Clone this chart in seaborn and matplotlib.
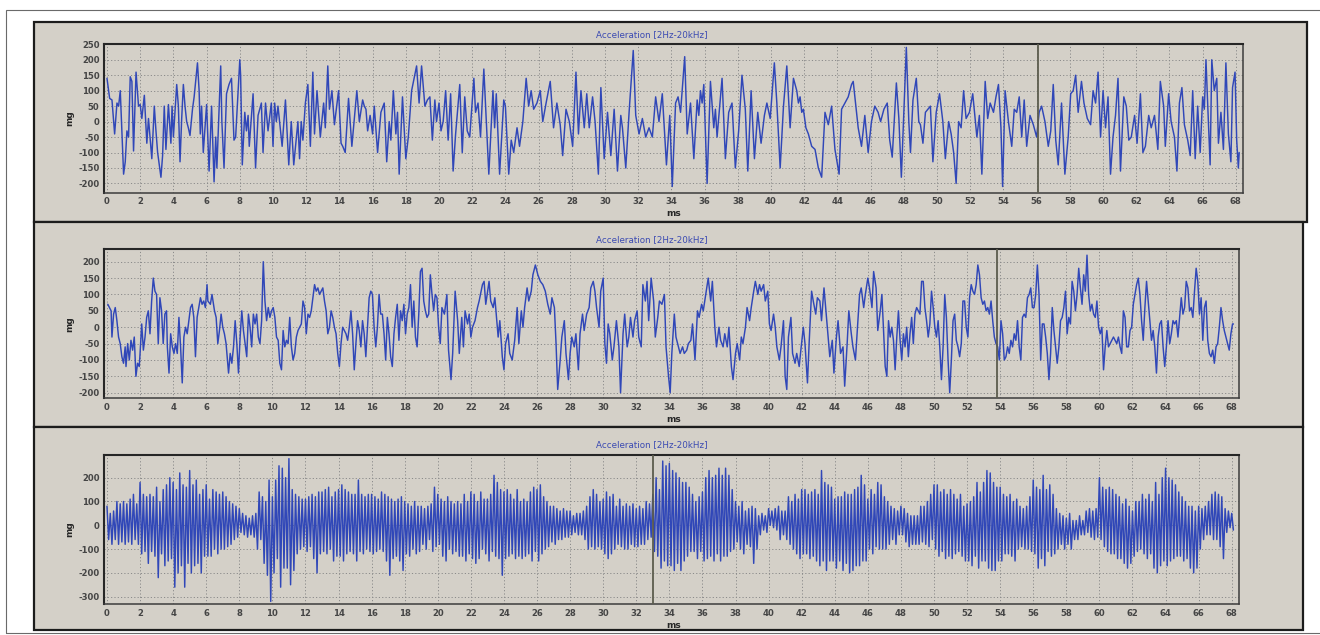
import numpy as np
import pandas as pd
import matplotlib
matplotlib.use("Agg")
import matplotlib.pyplot as plt
import seaborn as sns
from matplotlib.patches import Rectangle

# ---------------- data ----------------
title_text = "Acceleration [2Hz-20kHz]"
x_label = "ms"
y_label = "mg"
x_ticks = list(range(0, 70, 2))
p1_yticks = [250, 200, 150, 100, 50, 0, -50, -100, -150, -200]
p2_yticks = [200, 150, 100, 50, 0, -50, -100, -150, -200]
p3_yticks = [200, 100, 0, -100, -200, -300]
cursor_ms = [56.07, 53.83, 33.03]

p1_t = [
    0.0, 0.16, 0.3, 0.46, 0.6, 0.7, 0.8, 1.0, 1.1, 1.2,
    1.3, 1.4, 1.5, 1.6, 1.75, 1.82, 1.9, 2.0, 2.1, 2.25,
    2.4, 2.5, 2.7, 2.85, 2.95, 3.05, 3.25, 3.35, 3.45, 3.55,
    3.7, 3.85, 3.92, 4.0, 4.2, 4.3, 4.4, 4.5, 4.6, 4.7,
    4.8, 4.9, 5.0, 5.15, 5.25, 5.45, 5.55, 5.62, 5.7, 5.8,
    6.0, 6.15, 6.3, 6.45, 6.55, 6.62, 6.85, 6.92, 7.05, 7.2,
    7.35, 7.5, 7.65, 7.75, 8.0, 8.05, 8.15, 8.3, 8.4, 8.5,
    8.57, 8.8, 8.95, 9.1, 9.3, 9.4, 9.55, 9.7, 9.9, 10.0,
    10.1, 10.2, 10.3, 10.55, 10.75, 10.95, 11.1, 11.25, 11.5, 11.6,
    11.7, 11.8, 11.95, 12.1, 12.25, 12.4, 12.5, 12.65, 12.85, 13.05,
    13.15, 13.3, 13.4, 13.55, 13.7, 13.95, 14.1, 14.2, 14.35, 14.55,
    14.75, 15.05, 15.2, 15.4, 15.5, 15.6, 15.7, 15.85, 16.0, 16.1,
    16.3, 16.5, 16.7, 16.85, 17.0, 17.1, 17.25, 17.4, 17.5, 17.6,
    17.8, 18.0, 18.15, 18.35, 18.65, 18.8, 18.95, 19.15, 19.3, 19.45,
    19.6, 19.75, 19.85, 20.0, 20.12, 20.25, 20.4, 20.55, 20.7, 20.85,
    21.0, 21.25, 21.4, 21.55, 21.7, 21.85, 22.1, 22.2, 22.35, 22.5,
    22.7, 22.85, 23.0, 23.25, 23.35, 23.45, 23.65, 23.9, 24.0, 24.2,
    24.35, 24.5, 24.7, 24.85, 25.05, 25.25, 25.4, 25.55, 25.7, 25.9,
    26.1, 26.25, 26.45, 26.7, 26.9, 27.1, 27.3, 27.45, 27.65, 27.85,
    28.05, 28.25, 28.4, 28.55, 28.75, 28.9, 29.05, 29.25, 29.4, 29.6,
    29.75, 29.95, 30.15, 30.35, 30.55, 30.75, 30.95, 31.05, 31.25, 31.45,
    31.7, 31.85, 32.05, 32.25, 32.45, 32.65, 32.85, 33.05, 33.25, 33.45,
    33.7, 33.9, 34.05, 34.25, 34.4, 34.55, 34.8, 34.95, 35.15, 35.35,
    35.55, 35.65, 35.75, 35.85, 35.95, 36.15, 36.35, 36.55, 36.65, 36.75,
    37.05, 37.25, 37.45, 37.65, 37.85, 38.05, 38.25, 38.45, 38.6, 38.8,
    39.0, 39.2, 39.4, 39.6, 39.75, 39.95, 40.2, 40.35, 40.55, 40.75,
    40.95, 41.15, 41.35, 41.55, 41.65, 41.75, 41.85, 41.95, 42.1, 42.25,
    42.45, 42.65, 42.85, 43.05, 43.25, 43.45, 43.65, 43.85, 44.1, 44.25,
    44.45, 44.65, 44.85, 44.95, 45.25, 45.45, 45.65, 45.85, 46.05, 46.25,
    46.45, 46.6, 46.8, 47.0, 47.15, 47.3, 47.55, 47.7, 47.85, 48.05,
    48.15, 48.3, 48.4, 48.55, 48.75, 48.9, 49.0, 49.15, 49.3, 49.45,
    49.6, 49.75, 49.95, 50.15, 50.35, 50.5, 50.7, 50.85, 51.0, 51.15,
    51.3, 51.45, 51.6, 51.75, 51.95, 52.15, 52.4, 52.55, 52.7, 52.9,
    53.05, 53.2, 53.4, 53.55, 53.7, 53.85, 53.95, 54.1, 54.3, 54.5,
    54.65, 54.8, 54.95, 55.1, 55.25, 55.4, 55.6, 55.8, 56.0, 56.15,
    56.3, 56.5, 56.7, 56.85, 57.0, 57.15, 57.3, 57.5, 57.7, 57.9,
    58.05, 58.2, 58.35, 58.5, 58.7, 58.85, 59.05, 59.25, 59.4, 59.55,
    59.7, 59.85, 60.0, 60.15, 60.3, 60.45, 60.6, 60.75, 60.9, 61.05,
    61.25, 61.4, 61.55, 61.7, 61.9, 62.05, 62.25, 62.4, 62.55, 62.75,
    62.9, 63.1, 63.3, 63.45, 63.65, 63.75, 63.95, 64.1, 64.3, 64.45,
    64.6, 64.75, 64.9, 65.1, 65.25, 65.4, 65.55, 65.7, 65.85, 66.0,
    66.1, 66.2, 66.3, 66.45, 66.55, 66.7, 66.85, 66.95, 67.1, 67.25,
    67.4, 67.55, 67.7, 67.8, 67.95, 68.05, 68.15, 68.2,
]
p1_v = [
    140, 75, 70, -40, 60, 50, 100, -170, -130, -30,
    -50, 145, 130, -95, 160, 110, 50, 55, 10, 85,
    -70, 10, -120, 50, -30, -100, -180, -110, 50, -90,
    55, -70, 50, -50, 120, 50, -130, 10, 120, 50,
    0, -20, -45, 40, 80, 190, 100, -40, 50, -100,
    55, -160, 50, -195, -50, -150, 180, 0, -150, 90,
    120, 140, -60, -50, 200, 150, -140, 30, -30, 20,
    -80, 90, -150, 20, 60, -100, 60, -30, 60, -80,
    60, 0, 50, -80, 70, -140, 0, -140, 0, -120,
    0, -60, 60, 120, -80, 160, -40, 100, -50, 60,
    -20, 180, 40, 100, -10, 100, -70, -80, -100, 75,
    -80, 100, 0, 70, 50, 40, -30, 20, -40, 50,
    -100, 30, 60, -130, 0, -60, 100, -40, 30, -170,
    80, -120, -50, 100, 180, 60, 180, 50, 70, 80,
    -60, 70, 0, 60, -30, 0, 100, -60, 90, -160,
    -40, 120, -100, 80, -30, -50, 140, 30, 60, -50,
    170, 0, -170, 100, -20, 90, -170, 70, 50, -170,
    -60, -100, -20, -80, 0, 140, 50, 100, 40, 60,
    100, 0, 60, 130, -20, 60, -10, -110, 40, 0,
    -80, 160, -40, 100, -20, 90, -20, 80, 0, -170,
    110, -120, 30, -110, 40, -160, 20, -20, -150, 30,
    230, 20, -40, 10, -50, -20, -50, 80, 0, 90,
    -140, 20, -210, 60, 80, 30, 210, -40, 60, -120,
    70, 20, 100, 60, 120, -200, 130, -20, 40, -50,
    140, -120, 30, 60, -150, -30, 150, 40, -160, 100,
    -120, 30, -70, 20, 60, 10, 190, 60, -150, 50,
    180, -20, 140, 100, 60, 80, 30, 40, -20, -40,
    -80, -90, -150, -180, 30, -10, 50, -90, -170, 40,
    60, 80, 120, 130, -20, -80, 20, -100, 0, 50,
    30, 0, 40, 60, -60, -115, 125, 10, -180, 100,
    240, 0, -100, 70, 140, 0, -10, -70, 30, 40,
    50, -130, 30, 90, 0, -120, 0, -40, -100, -200,
    0, -20, 100, 10, 30, 90, -50, 20, -170, 130,
    10, 60, 30, 80, 120, -20, -210, 100, 0, -80,
    40, 30, 80, -50, 70, -80, 20, -10, -50, 30,
    50, 0, -80, -30, 120, -60, -140, 60, -170, -50,
    90, 100, 150, 30, 130, 60, 10, -10, 100, 60,
    160, -50, 100, -20, 80, -170, -50, 20, 140, -160,
    80, 50, -60, -50, 20, -70, 90, -100, -80, 20,
    -20, 20, -90, 130, 50, -80, 90, 0, -50, -160,
    60, 110, -10, -60, -110, 100, -120, 50, -100, 80,
    40, 200, 60, -140, 200, 100, 140, -70, 30, -90,
    190, -40, -130, 110, 160, -60, -150, -100,
]

p2_t = [
    0.05, 0.15, 0.25, 0.3, 0.4, 0.5, 0.6, 0.7, 0.8, 0.9,
    1.0, 1.1, 1.15, 1.25, 1.35, 1.45, 1.55, 1.65, 1.75, 1.85,
    1.95, 2.0, 2.1, 2.2, 2.3, 2.4, 2.5, 2.6, 2.7, 2.8,
    2.9, 3.0, 3.1, 3.2, 3.3, 3.4, 3.5, 3.6, 3.65, 3.75,
    3.85, 3.95, 4.05, 4.15, 4.25, 4.35, 4.45, 4.55, 4.65, 4.75,
    4.85, 4.95, 5.05, 5.15, 5.25, 5.35, 5.45, 5.55, 5.65, 5.75,
    5.85, 5.95, 6.05, 6.1, 6.25, 6.35, 6.5, 6.6, 6.7, 6.8,
    6.9, 7.0, 7.1, 7.2, 7.35, 7.45, 7.55, 7.65, 7.75, 7.85,
    7.95, 8.05, 8.15, 8.25, 8.35, 8.45, 8.55, 8.65, 8.75, 8.85,
    8.95, 9.05, 9.15, 9.25, 9.35, 9.45, 9.55, 9.65, 9.75, 9.85,
    9.95, 10.05, 10.15, 10.25, 10.35, 10.45, 10.55, 10.65, 10.75, 10.85,
    10.95, 11.05, 11.15, 11.25, 11.35, 11.45, 11.55, 11.65, 11.75, 11.85,
    11.95, 12.05, 12.15, 12.25, 12.35, 12.45, 12.55, 12.65, 12.75, 12.85,
    12.95, 13.05, 13.15, 13.25, 13.35, 13.45, 13.55, 13.65, 13.75, 13.85,
    13.95, 14.05, 14.15, 14.25, 14.35, 14.45, 14.55, 14.65, 14.75, 14.85,
    14.95, 15.05, 15.15, 15.25, 15.35, 15.45, 15.55, 15.65, 15.75, 15.85,
    15.95, 16.05, 16.15, 16.25, 16.35, 16.45, 16.55, 16.65, 16.75, 16.85,
    16.95, 17.05, 17.15, 17.25, 17.35, 17.45, 17.55, 17.65, 17.75, 17.85,
    17.95, 18.05, 18.15, 18.25, 18.35, 18.45, 18.55, 18.65, 18.75, 18.85,
    18.95, 19.05, 19.15, 19.25, 19.35, 19.45, 19.55, 19.65, 19.75, 19.85,
    19.95, 20.05, 20.15, 20.25, 20.4, 20.55, 20.65, 20.8, 20.9, 21.05,
    21.2, 21.3, 21.45, 21.55, 21.65, 21.8, 21.9, 22.0, 22.1, 22.25,
    22.4, 22.5, 22.7, 22.8, 22.9, 23.1, 23.2, 23.35, 23.45, 23.65,
    23.75, 23.9, 24.0, 24.1, 24.25, 24.35, 24.5, 24.65, 24.8, 24.9,
    25.05, 25.15, 25.25, 25.4, 25.5, 25.65, 25.75, 25.9, 26.05, 26.2,
    26.35, 26.5, 26.65, 26.8, 26.9, 27.05, 27.15, 27.25, 27.4, 27.5,
    27.65, 27.75, 27.9, 28.0, 28.1, 28.25, 28.35, 28.5, 28.6, 28.75,
    28.85, 29.0, 29.15, 29.25, 29.4, 29.5, 29.6, 29.75, 29.85, 30.0,
    30.1, 30.2, 30.3, 30.4, 30.55, 30.65, 30.8, 30.95, 31.05, 31.2,
    31.3, 31.45, 31.55, 31.65, 31.8, 31.9, 32.05, 32.15, 32.3, 32.4,
    32.55, 32.65, 32.75, 32.9, 33.05, 33.15, 33.3, 33.4, 33.55, 33.7,
    33.8, 33.95, 34.05, 34.15, 34.3, 34.4, 34.55, 34.65, 34.8, 34.9,
    35.05, 35.15, 35.3, 35.4, 35.55, 35.7, 35.8, 35.95, 36.05, 36.2,
    36.35, 36.5, 36.6, 36.75, 36.85, 37.0, 37.1, 37.25, 37.35, 37.5,
    37.6, 37.75, 37.85, 38.0, 38.1, 38.25, 38.35, 38.45, 38.6, 38.7,
    38.85, 38.95, 39.1, 39.2, 39.35, 39.45, 39.55, 39.7, 39.8, 39.95,
    40.05, 40.15, 40.3, 40.4, 40.5, 40.65, 40.75, 40.9, 41.0, 41.1,
    41.2, 41.35, 41.45, 41.6, 41.7, 41.85, 41.95, 42.1, 42.2, 42.35,
    42.45, 42.6, 42.7, 42.85, 42.95, 43.1, 43.2, 43.35, 43.45, 43.6,
    43.7, 43.85, 43.95, 44.1, 44.2, 44.35, 44.5, 44.6, 44.75, 44.85,
    45.0, 45.1, 45.25, 45.35, 45.5, 45.6, 45.75, 45.85, 46.0, 46.1,
    46.25, 46.35, 46.5, 46.6, 46.75, 46.85, 47.05, 47.15, 47.25, 47.35,
    47.45, 47.55, 47.65, 47.75, 47.85, 47.95, 48.05, 48.15, 48.25, 48.35,
    48.45, 48.55, 48.65, 48.75, 48.85, 48.95, 49.05, 49.15, 49.25, 49.35,
    49.45, 49.55, 49.65, 49.75, 49.85, 49.95, 50.05, 50.15, 50.25, 50.35,
    50.45, 50.55, 50.65, 50.75, 50.85, 50.95, 51.05, 51.15, 51.25, 51.35,
    51.45, 51.55, 51.65, 51.75, 51.85, 51.95, 52.05, 52.15, 52.25, 52.35,
    52.45, 52.55, 52.65, 52.75, 52.85, 52.95, 53.05, 53.15, 53.25, 53.35,
    53.45, 53.55, 53.65, 53.75, 53.85, 53.95, 54.05, 54.15, 54.25, 54.35,
    54.45, 54.55, 54.65, 54.75, 54.85, 54.95, 55.05, 55.15, 55.25, 55.35,
    55.45, 55.55, 55.65, 55.75, 55.85, 55.95, 56.05, 56.15, 56.25, 56.35,
    56.45, 56.55, 56.65, 56.75, 56.85, 56.95, 57.05, 57.15, 57.25, 57.35,
    57.45, 57.55, 57.65, 57.75, 57.85, 57.95, 58.05, 58.15, 58.25, 58.35,
    58.45, 58.55, 58.65, 58.75, 58.85, 58.95, 59.05, 59.15, 59.25, 59.35,
    59.45, 59.55, 59.65, 59.75, 59.85, 59.95, 60.05, 60.15, 60.25, 60.35,
    60.45, 60.55, 60.65, 60.75, 60.85, 60.95, 61.05, 61.15, 61.25, 61.35,
    61.45, 61.55, 61.65, 61.75, 61.85, 61.95, 62.05, 62.15, 62.25, 62.35,
    62.45, 62.55, 62.65, 62.75, 62.85, 62.95, 63.05, 63.15, 63.25, 63.35,
    63.45, 63.55, 63.65, 63.75, 63.85, 63.95, 64.05, 64.15, 64.25, 64.35,
    64.45, 64.55, 64.65, 64.75, 64.85, 64.95, 65.05, 65.15, 65.25, 65.35,
    65.45, 65.55, 65.65, 65.75, 65.85, 65.95, 66.05, 66.15, 66.25, 66.35,
    66.45, 66.55, 66.65, 66.75, 66.85, 66.95, 67.05, 67.15, 67.25, 67.35,
    67.45, 67.55, 67.65, 67.75, 67.85, 67.95, 68.05, 68.1,
]
p2_v = [
    70, 60, 50, -30, 40, 60, 20, -30, -50, -90,
    -110, -60, -120, -50, -100, -40, -70, -30, -150, -110,
    -120, -80, 10, -70, -30, 30, 50, -20, 80, 150,
    110, 100, -50, 90, 50, -50, 40, 50, -60, -140,
    -20, -60, -80, -50, -80, 30, -60, -170, -30, 0,
    -20, 20, 60, 70, 30, -90, 30, 60, 90, 70,
    80, 60, 130, 80, 70, 100, 50, 30, -50, -10,
    40, 0, -20, -50, -140, -80, -110, -60, 20, -50,
    -140, -30, 50, -10, -50, -90, 40, 0, -60, 40,
    10, 40, -30, -50, 20, 200, 80, 20, 60, 30,
    50, 60, 30, -30, -40, -110, -130, -10, -60, -40,
    -50, 30, -60, -100, -80, -30, -10, 0, 10, 80,
    60, -20, 40, 30, 50, 90, 130, 110, 120, 100,
    110, 120, 80, 50, -20, 0, 50, 30, 0, -20,
    -80, -120, -50, 0, -10, -20, -40, 0, 50, -20,
    -130, -50, 20, -10, -60, 20, -20, -90, 0, 90,
    110, 100, 0, -60, 0, 100, 40, 40, -20, -100,
    30, -20, -90, -120, -20, 30, 70, -40, 50, 20,
    70, -20, 40, 60, 130, 0, 80, -30, -60, 40,
    170, 180, 80, 50, 30, 40, 160, 100, 50, 100,
    90, 0, -50, 60, 40, 100, -70, -160, -80, 110,
    20, -80, 30, -60, 50, 10, 40, -30, 0, 20,
    60, 80, 130, 140, 70, 140, 80, 60, 90, -30,
    20, -90, -130, -50, -20, -80, -100, -40, 60, -50,
    50, 0, 60, 120, 80, 110, 160, 190, 160, 140,
    130, 110, 70, 40, 90, 60, -50, -190, -100, -30,
    20, -80, -160, -80, -30, -60, -20, -130, -20, 40,
    -10, 40, 60, 120, 140, 110, 60, 0, 110, 150,
    -50, -110, 10, -20, -100, -60, 20, -60, -200, -20,
    40, -60, -30, 30, -30, 20, 50, -30, -60, 130,
    80, 140, 20, 150, 80, -30, 30, 80, 70, 100,
    -60, -150, -200, -80, 40, -30, -60, -80, -60, -80,
    -70, -50, -40, 10, -100, 50, 30, 70, 50, 100,
    150, 80, 140, 0, -60, 0, -40, -60, -20, -60,
    0, -120, -160, -80, -50, -100, -30, -50, 0, 60,
    20, 60, 110, 140, 100, 130, 110, 130, 80, 110,
    10, -10, 40, 0, -60, -100, -60, 20, -150, -190,
    -30, 30, -80, -110, -80, -120, -70, 0, -50, -170,
    -50, 110, 80, 40, 90, 80, 20, 120, 60, -30,
    -90, -40, -140, -30, 20, -80, -60, -180, -50, 50,
    -20, -60, -100, -20, 100, 120, 60, 100, 150, 120,
    60, 170, 120, -10, 50, 100, -120, -150, 20, -30,
    0, -40, -130, -30, 50, -40, -100, -20, -60, 0,
    -90, -20, 30, -50, 40, 60, 50, 40, 140, 140,
    60, 20, -30, 10, 110, 60, 0, -30, 20, -60,
    -160, -60, 100, 30, -100, -200, -100, 20, 40, -40,
    -60, -90, -50, 80, 80, 0, -30, 90, 130, 110,
    100, 130, 190, 160, 90, 70, 80, 50, 60, 40,
    80, 20, -30, -50, -60, -100, 20, -20, -100, -90,
    -60, -80, -40, -60, -20, -40, 20, -60, -100, 30,
    40, 30, 90, 100, 120, 60, 60, 100, 190, 100,
    -100, 10, 10, -30, -80, -160, -80, 60, -10, -60,
    -110, -60, 20, 30, 60, 110, -20, 30, 10, 140,
    110, 50, 100, 180, 120, 70, 160, 110, 220, 100,
    50, 70, 40, 30, 80, 0, -20, 0, -130, -60,
    -10, -60, -50, -40, -30, -40, -50, -30, -60, -80,
    50, 30, -60, -60, -10, 0, 70, 100, 130, 150,
    100, 20, -40, 60, 140, 80, 20, -40, -10, -60,
    -140, -30, 10, 20, -60, -120, -60, 20, -50, -20,
    20, 10, 20, -30, 30, 90, 40, 60, 140, 120,
    50, 60, 30, 110, 180, 140, 40, 90, -40, 60,
    80, -40, -80, -90, -70, -110, -60, -50, 0, 60,
    20, -10, -30, -50, -70, -20, 10, 10,
]

p3_dt = 0.1
p3_v = [
    80, -60, 50, -80, 60, -60, 100, -80, 90, -70,
    100, -80, 90, -70, 110, -80, 130, -60, 90, -80,
    180, -120, 130, -110, 120, -160, 130, -110, 120, -130,
    160, -220, 100, -120, 150, -170, 170, -150, 200, -140,
    180, -260, 150, -200, 220, -170, 170, -260, 160, -160,
    230, -200, 170, -170, 190, -160, 130, -200, 150, -130,
    170, -130, 110, -130, 150, -100, 140, -120, 130, -100,
    140, -100, 120, -90, 100, -80, 90, -60, 80, -50,
    70, -30, 50, -40, 40, -50, 30, -40, 40, -50,
    50, -100, 140, -60, 120, -160, 100, -210, 190, -320,
    120, -200, 190, -140, 250, -260, 240, -180, 200, -180,
    280, -250, 150, -190, 130, -120, 120, -100, 110, -90,
    110, -110, 120, -90, 130, -140, 120, -200, 140, -120,
    140, -110, 150, -120, 160, -100, 120, -150, 140, -130,
    150, -130, 170, -150, 150, -120, 140, -110, 130, -120,
    130, -150, 190, -110, 130, -120, 120, -100, 130, -110,
    130, -120, 120, -110, 110, -100, 140, -110, 130, -150,
    120, -210, 110, -140, 100, -130, 110, -150, 120, -190,
    100, -120, 90, -130, 80, -100, 100, -120, 80, -110,
    80, -80, 70, -100, 80, -60, 90, -110, 160, -90,
    130, -80, 110, -130, 100, -150, 120, -100, 100, -120,
    90, -110, 100, -130, 90, -130, 130, -150, 100, -120,
    140, -140, 130, -160, 100, -140, 140, -100, 110, -120,
    110, -150, 130, -110, 210, -130, 180, -140, 150, -210,
    140, -140, 150, -130, 130, -120, 110, -140, 150, -130,
    100, -140, 110, -130, 100, -120, 140, -150, 160, -110,
    150, -150, 170, -120, 120, -100, 100, -90, 80, -70,
    80, -80, 70, -60, 60, -60, 70, -50, 60, -50,
    60, -40, 40, -30, 50, -40, 50, -40, 60, -60,
    80, -100, 120, -90, 150, -100, 130, -90, 100, -100,
    110, -120, 140, -140, 120, -120, 130, -100, 80, -80,
    110, -90, 80, -100, 90, -100, 80, -80, 90, -90,
    70, -90, 80, -80, 70, -80, 100, -60, 90, -50,
    130, -110, 200, -130, 150, -180, 270, -150, 250, -170,
    260, -170, 230, -190, 220, -160, 200, -190, 180, -150,
    180, -130, 160, -110, 130, -110, 100, -140, 120, -110,
    140, -150, 200, -140, 230, -130, 200, -150, 210, -120,
    240, -150, 210, -130, 240, -130, 210, -110, 150, -100,
    100, -70, 80, -100, 100, -120, 60, -80, 70, -90,
    80, -160, 70, -100, 40, -40, 50, -20, 40, -30,
    70, 0, 60, -10, 70, -20, 80, -60, 60, -40,
    60, -60, 120, -80, 100, -100, 130, -120, 110, -140,
    150, -120, 150, -120, 130, -140, 140, -130, 150, -150,
    130, -170, 230, -150, 180, -190, 170, -150, 160, -150,
    110, -180, 120, -150, 120, -190, 140, -160, 130, -200,
    130, -190, 150, -170, 160, -170, 210, -150, 170, -150,
    110, -100, 150, -120, 130, -90, 180, -100, 170, -100,
    120, -100, 100, -80, 80, -60, 70, -80, 60, -40,
    80, -40, 70, -70, 50, -90, 40, -80, 40, -80,
    40, -80, 80, -70, 80, -80, 100, -90, 130, -60,
    170, -100, 170, -130, 140, -110, 150, -140, 130, -130,
    150, -140, 130, -120, 110, -110, 130, -130, 80, -150,
    90, -150, 100, -170, 120, -130, 180, -180, 140, -150,
    180, -150, 230, -180, 220, -190, 180, -190, 160, -150,
    160, -150, 130, -120, 120, -120, 130, -130, 100, -150,
    110, -100, 80, -90, 70, -100, 80, -100, 120, -110,
    190, -120, 160, -180, 150, -140, 210, -170, 150, -110,
    170, -130, 130, -120, 70, -100, 50, -80, 40, -100,
    30, -80, 50, -100, 20, -60, 20, -60, 40, -40,
    20, -40, 60, -30, 70, -50, 60, -60, 70, -50,
    200, -60, 160, -90, 150, -110, 160, -120, 150, -120,
    130, -140, 120, -140, 90, -160, 110, -180, 80, -160,
    60, -130, 100, -110, 100, -100, 130, -120, 110, -140,
    130, -120, 100, -180, 180, -200, 130, -170, 200, -150,
    240, -170, 200, -150, 190, -140, 170, -130, 140, -130,
    120, -150, 100, -140, 80, -180, 80, -200, 60, -180,
    80, -100, 70, -60, 80, -40, 100, -40, 130, -60,
    140, -60, 130, -90, 120, -140, 70, -30, 60, -10,
    50, -20,
]
p3_t = [round(i * p3_dt, 2) for i in range(len(p3_v))]

assert len(p1_t) == len(p1_v), (len(p1_t), len(p1_v))
assert len(p2_t) == len(p2_v), (len(p2_t), len(p2_v))

# ---------------- styling ----------------
sns.set_style("white")
plt.rcParams['font.family'] = ['DejaVu Sans']

W, H = 1320, 635
PANEL = "#d4d0c8"
LINE = "#3047b8"
TICKC = "#454545"

fig = plt.figure(figsize=(W / 100, H / 100), dpi=100)
fig.patch.set_facecolor("white")


def px_rect(x0, y0, x1, y1, **kw):
    r = Rectangle((x0 / W, 1 - y1 / H), (x1 - x0) / W, (y1 - y0) / H,
                  transform=fig.transFigure, **kw)
    fig.add_artist(r)
    return r


# outer thin frame
px_rect(5.5, 10, 1330, 632.5, fill=False, edgecolor="#6a6a6a", lw=0.8, zorder=-10)
# gray panels
panel_boxes = [(34.3, 21.7, 1307, 222), (34.3, 222, 1303, 426.5), (34.3, 426.5, 1303, 629.5)]
for b in panel_boxes:
    px_rect(*b, facecolor=PANEL, edgecolor="#1c1c1c", lw=1.6, zorder=-5)

axes_px = [(104, 44.3, 1243, 192.7), (104, 249, 1239, 398.3), (104, 454.7, 1239, 604.3)]
ylims = [(-230, 250), (-217, 238.8), (-332, 296.6)]
xlims = [(-0.18, 68.43), (-0.18, 68.44), (-0.18, 68.44)]
yticks_all = [p1_yticks, p2_yticks, p3_yticks]
series = [(p1_t, p1_v), (p2_t, p2_v), (p3_t, p3_v)]
title_y = [35, 240, 445]
xlabel_y = [213, 419, 626]

for i in range(3):
    x0, y0, x1, y1 = axes_px[i]
    ax = fig.add_axes([x0 / W, 1 - y1 / H, (x1 - x0) / W, (y1 - y0) / H])
    ax.set_facecolor(PANEL)
    df = pd.DataFrame({"ms": series[i][0], "mg": series[i][1]})
    sns.lineplot(data=df, x="ms", y="mg", ax=ax, color=LINE, lw=1.05,
                 estimator=None, sort=False, legend=False, zorder=3)
    ax.axvline(cursor_ms[i], color="#5c5c4e", lw=1.3, zorder=4)
    ax.set_xlim(*xlims[i])
    ax.set_ylim(*ylims[i])
    ax.set_xticks(x_ticks)
    ax.set_xticklabels([str(v) for v in x_ticks])
    ax.set_yticks(yticks_all[i])
    ax.set_yticklabels([str(v) for v in yticks_all[i]])
    ax.tick_params(axis="both", length=0, pad=3.2, labelsize=6.1, labelcolor=TICKC)
    for lab in ax.get_xticklabels() + ax.get_yticklabels():
        lab.set_fontweight("bold")
    ax.grid(True, linestyle=(0, (1.2, 2.2)), color="#8a8a8a", lw=0.7, zorder=1)
    ax.set_axisbelow(True)
    ax.set_xlabel("")
    ax.set_ylabel("")
    for side in ["left", "top"]:
        ax.spines[side].set_color("#262626")
        ax.spines[side].set_linewidth(1.5)
    for side in ["right", "bottom"]:
        ax.spines[side].set_color("#3c3c3c")
        ax.spines[side].set_linewidth(1.1)
    fig.text(652 / W, 1 - title_y[i] / H, title_text, ha="center", va="center",
             color="#3b4ab2", fontsize=6.3)
    fig.text(674 / W, 1 - xlabel_y[i] / H, x_label, ha="center", va="center",
             color="#262626", fontsize=6.5, fontweight="bold")
    fig.text(70 / W, 1 - ((y0 + y1) / 2) / H, y_label, ha="center", va="center",
             rotation=90, color="#262626", fontsize=6.5, fontweight="bold")

fig.savefig("out.png", dpi=100, facecolor="white")
